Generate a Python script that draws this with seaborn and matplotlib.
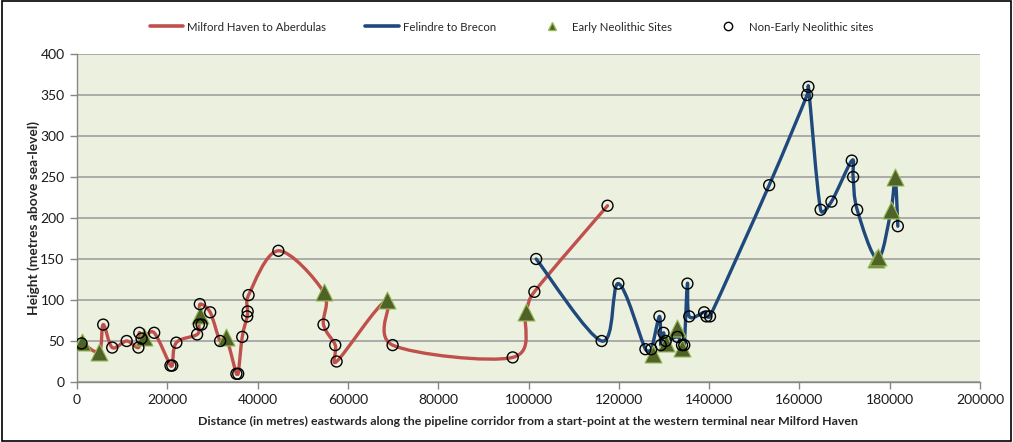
import numpy as np
import pandas as pd
import seaborn as sns
import matplotlib
matplotlib.use("Agg")
import matplotlib.pyplot as plt
from matplotlib.path import Path
from matplotlib.patches import PathPatch, Rectangle
from matplotlib.lines import Line2D
from matplotlib import font_manager

# ---------------- data ----------------
red_x = [1000, 4900, 5800, 7800, 11000, 13600, 13800, 14300, 14900, 17100,
         20700, 21100, 22000, 26600, 27000, 27200, 27300, 29500, 31700, 33000,
         35300, 35700, 36600, 37700, 37800, 38000, 44600, 54600, 54600, 57200,
         57500, 68700, 69900, 96500, 99400, 101300, 117500]
red_y = [48, 37, 70, 42, 50, 42, 60, 53, 55, 60,
         20, 20, 48, 58, 70, 82, 95, 85, 50, 55,
         10, 10, 55, 80, 86, 106, 160, 110, 70, 45,
         25, 100, 45, 30, 85, 110, 215]

blue_x = [101700, 116200, 119900, 125900, 127200, 129000, 129300, 129900, 130400,
          133000, 134000, 134500, 135200, 135600, 138900, 139400, 140200, 153300,
          161700, 162000, 164700, 167100, 171600, 171900, 172800, 177300, 180300,
          181200, 181800]
blue_y = [150, 50, 120, 40, 40, 80, 45, 60, 50,
          55, 45, 45, 120, 80, 85, 80, 80, 240,
          350, 360, 210, 220, 270, 250, 210, 150, 210,
          250, 190]

early_x = [1000, 4900, 14900, 27200, 33000, 54600, 68700, 99400, 127500,
           130400, 133000, 134000, 177000, 177400, 180300, 181200]
early_y = [49, 37, 55, 82, 55, 110, 100, 85, 34,
           48, 66, 42, 150, 153, 210, 250]

non_early_x = [1000, 5800, 7800, 11000, 13600, 13800, 14300, 17100, 20700, 21100,
               22000, 26600, 27000, 27600, 27200, 29500, 31700, 35300, 35700, 36600,
               37700, 37800, 38000, 44600, 54600, 57200, 57500, 69900, 96500, 101300,
               117500,
               101700, 116200, 119900, 125900, 127200, 129000, 129300, 129900, 130400,
               133000, 134000, 134500, 135200, 135600, 138900, 139400, 140200, 153300,
               161700, 162000, 164700, 167100, 171600, 171900, 172800, 181800]
non_early_y = [47, 70, 42, 50, 42, 60, 53, 60, 20, 20,
               48, 58, 70, 70, 95, 85, 50, 10, 10, 55,
               80, 86, 106, 160, 70, 45, 25, 45, 30, 110,
               215,
               150, 50, 120, 40, 40, 80, 45, 60, 50,
               55, 45, 45, 120, 80, 85, 80, 80, 240,
               350, 360, 210, 220, 270, 250, 210, 190]

series_names = ["Milford Haven to Aberdulas", "Felindre to Brecon",
                "Early Neolithic Sites", "Non-Early Neolithic sites"]
x_ticks = list(range(0, 200001, 20000))
y_ticks = list(range(0, 401, 50))
x_title = "Distance (in metres) eastwards along the pipeline corridor from a start-point at the western terminal near Milford Haven"
y_title = "Height (metres above sea-level)"

RED = "#C0504D"
BLUE = "#1F497D"
GREEN = "#4F6228"
GREEN_EDGE = "#9BBB59"
BG = "#EBF1DE"

# ---------------- style ----------------
sns.set_theme(style="white")
avail = {f.name for f in font_manager.fontManager.ttflist}
fam = "Liberation Sans Narrow" if "Liberation Sans Narrow" in avail else (
    "Lato" if "Lato" in avail else "DejaVu Sans")
plt.rcParams["font.family"] = [fam, "DejaVu Sans"]

fig = plt.figure(figsize=(10.13, 4.42), dpi=100)
ax = fig.add_axes([77 / 1013, 1 - 382 / 442, (980 - 77) / 1013, (382 - 54) / 442])
ax.set_facecolor(BG)
ax.set_xlim(0, 200000)
ax.set_ylim(0, 400)


def smooth_path(xs, ys, axis, limit=0.5):
    """Excel-like smoothed line: Catmull-Rom Bezier computed in screen space."""
    T = axis.transData
    P = T.transform(np.column_stack([np.asarray(xs, float), np.asarray(ys, float)]))
    n = len(P)
    tang = []
    for i in range(n):
        a = P[i - 1] if i > 0 else P[i]
        b = P[i + 1] if i < n - 1 else P[i]
        tang.append((b - a) / 6.0)
    verts = [P[0]]
    codes = [Path.MOVETO]
    for i in range(n - 1):
        L = np.hypot(*(P[i + 1] - P[i]))
        t1, t2 = tang[i], tang[i + 1]
        n1, n2 = np.hypot(*t1), np.hypot(*t2)
        s1 = min(1.0, limit * L / n1) if n1 > 0 else 0.0
        s2 = min(1.0, limit * L / n2) if n2 > 0 else 0.0
        verts += [P[i] + t1 * s1, P[i + 1] - t2 * s2, P[i + 1]]
        codes += [Path.CURVE4] * 3
    return Path(T.inverted().transform(np.array(verts)), codes)


for xs, ys, col in [(red_x, red_y, RED), (blue_x, blue_y, BLUE)]:
    ax.add_patch(PathPatch(smooth_path(xs, ys, ax), facecolor="none", edgecolor=col,
                           lw=2.4, zorder=3, capstyle="round", joinstyle="round"))

early_df = pd.DataFrame({"x": early_x, "y": early_y})
non_df = pd.DataFrame({"x": non_early_x, "y": non_early_y})
sns.scatterplot(data=early_df, x="x", y="y", marker="^", s=150, color=GREEN,
                edgecolor=GREEN_EDGE, linewidth=0.8, ax=ax, zorder=4, legend=False)
sns.scatterplot(data=non_df, x="x", y="y", marker="o", s=62, facecolor="none",
                edgecolor="black", linewidth=1.0, ax=ax, zorder=5, legend=False)

ax.set_xlim(0, 200000)
ax.set_ylim(0, 400)
ax.set_xticks(x_ticks)
ax.set_yticks(y_ticks)
ax.set_xticklabels([str(v) for v in x_ticks])
ax.set_yticklabels([str(v) for v in y_ticks])
ax.grid(axis="y", color="#A0A0A0", lw=1.2)
ax.grid(axis="x", visible=False)
ax.set_axisbelow(True)
for s in ["top", "right"]:
    ax.spines[s].set_visible(False)
for s in ["left", "bottom"]:
    ax.spines[s].set_color("#868686")
    ax.spines[s].set_linewidth(1.0)
ax.tick_params(axis="both", which="major", direction="out", length=5, width=1,
               color="#868686", labelsize=10, pad=4, labelcolor="#1a1a1a")
ax.tick_params(left=True, bottom=True)

xl = ax.set_xlabel(x_title, fontsize=10, fontweight="bold", labelpad=6.5)
yl = ax.set_ylabel(y_title, fontsize=10, fontweight="bold", labelpad=0)

handles = [
    Line2D([], [], color=RED, lw=2.6),
    Line2D([], [], color=BLUE, lw=2.6),
    Line2D([], [], color=GREEN, marker="^", ls="none", markersize=6, markeredgecolor=GREEN_EDGE),
    Line2D([], [], color="black", marker="o", ls="none", markersize=6, markerfacecolor="none"),
]
leg = fig.legend(handles, series_names, loc="center", bbox_to_anchor=(0.505, 0.938), ncol=4,
                 frameon=False, fontsize=10, handlelength=2.4, handletextpad=0.3,
                 columnspacing=2.8)

# fit text widths to the reference proportions
fig.canvas.draw()
r = fig.canvas.get_renderer()
w = xl.get_window_extent(r).width
xl.set_fontsize(10 * 665.0 / w)
h = yl.get_window_extent(r).height
yl.set_fontsize(10 * 194.0 / h)
lt = leg.get_texts()[0]
wl = lt.get_window_extent(r).width
for t in leg.get_texts():
    t.set_fontsize(10 * 139.0 / wl)

fig.add_artist(Rectangle((0.002, 0.003), 0.996, 0.994, transform=fig.transFigure,
                         fill=False, edgecolor="black", lw=1.2))

fig.savefig("out.png", dpi=100)
